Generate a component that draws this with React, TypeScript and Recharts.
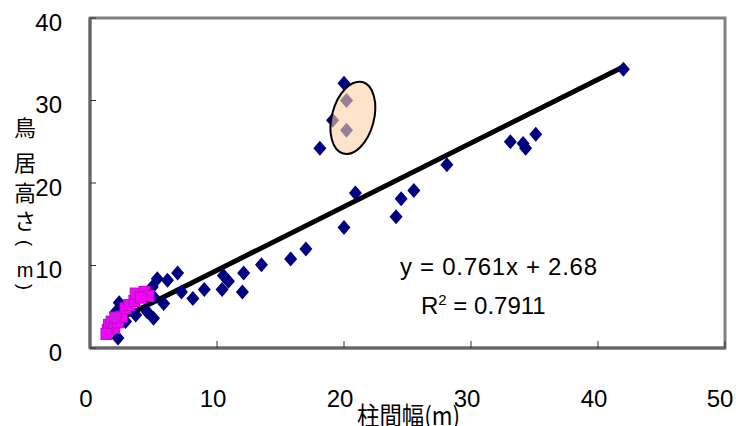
import {
  ScatterChart,
  Scatter,
  XAxis,
  YAxis,
  ReferenceLine,
  ReferenceDot,
  ReferenceArea,
} from 'recharts';

// tick values
const xTicks = [0, 10, 20, 30, 40, 50];
const yTicks = [0, 10, 20, 30, 40];

// 柱間幅 (m) / 鳥居高さ (m) — navy diamonds
const toriiX = [1.5, 2.2, 2.0, 2.3, 2.8, 3.6, 4.5, 5.0, 5.0, 4.9, 5.3, 5.8, 6.1, 6.9, 7.2, 8.1, 9.0, 10.4, 10.5, 10.9, 12.0, 12.1, 13.5, 15.8, 17.0, 18.1, 19.1, 20.0, 20.2, 20.2, 20.0, 20.9, 24.1, 24.5, 25.5, 28.1, 33.1, 34.1, 34.3, 35.1, 42.0];
const toriiY = [2.6, 1.2, 4.3, 5.5, 3.2, 4.0, 4.4, 3.6, 6.2, 7.4, 8.4, 5.4, 8.2, 9.1, 6.8, 6.0, 7.1, 7.1, 8.8, 8.1, 6.8, 9.1, 10.1, 10.8, 12.0, 24.2, 27.6, 32.1, 30.0, 26.4, 14.6, 18.8, 15.9, 18.1, 19.1, 22.2, 25.0, 24.8, 24.2, 25.9, 33.8];

// magenta squares
const smallX = [1.4, 1.5, 1.7, 1.9, 2.2, 2.5, 2.8, 3.1, 3.5, 3.6, 4.3, 4.6, 4.0, 2.0, 1.3];
const smallY = [2.2, 2.8, 3.2, 2.4, 3.1, 3.8, 4.8, 5.2, 5.7, 6.6, 6.8, 6.3, 6.1, 3.7, 1.7];

// trend line ends and its label
const trendX = [1.4, 42.0];
const trendY = [2.8, 34.1];
const equation = 'y = 0.761x + 2.68';
const rSquared = '0.7911';

// circled group centre
const circledX = 20.7;
const circledY = 27.9;

const yTitleKanji = ['鳥', '居', '高', 'さ'];
const xTitle = '柱間幅(m)';

const torii = toriiX.map((x, i) => ({ x, y: toriiY[i] }));
const small = smallX.map((x, i) => ({ x, y: smallY[i] }));

const numFont = "'Liberation Sans', Arial, sans-serif";
const jpFont = "'Noto Sans CJK JP', sans-serif";

const Diamond = (props: any) => {
  const { cx, cy } = props;
  return (
    <polygon
      points={`${cx},${cy - 7.5} ${cx + 6.5},${cy} ${cx},${cy + 7.5} ${cx - 6.5},${cy}`}
      fill="#000080"
    />
  );
};

const Square = (props: any) => {
  const { cx, cy } = props;
  const h = 5.5;
  return (
    <g>
      <rect x={cx - h} y={cy - h} width={h * 2} height={h * 2} fill="#ff00ff" stroke="#cc00cc" strokeWidth={1} />
      <path
        d={`M${cx - h},${cy - h}L${cx + h},${cy + h}M${cx + h},${cy - h}L${cx - h},${cy + h}`}
        stroke="#9a33cc"
        strokeWidth={1}
      />
    </g>
  );
};

const Ellipse = (props: any) => {
  const { cx, cy } = props;
  return (
    <ellipse
      cx={cx}
      cy={cy}
      rx={21}
      ry={37}
      transform={`rotate(15 ${cx} ${cy})`}
      fill="#ffd2a8"
      fillOpacity={0.6}
      stroke="#000"
      strokeWidth={2}
    />
  );
};

export default function App() {
  return (
    <div style={{ position: 'absolute', left: 0, top: 0, background: '#fff' }}>
      <ScatterChart width={736} height={426} margin={{ top: 18, right: 11, left: 0, bottom: 0 }}>
        <XAxis
          type="number"
          dataKey="x"
          domain={[0, 50]}
          ticks={xTicks}
          height={78}
          axisLine={{ stroke: '#666', strokeWidth: 3 }}
          tickLine={{ stroke: '#333' }}
          tickSize={-7}
          tickMargin={49}
          tick={{ fontSize: 24, fill: '#000', fontFamily: numFont, dx: -4 }}
        />
        <YAxis
          type="number"
          dataKey="y"
          domain={[0, 40]}
          ticks={yTicks}
          width={90}
          axisLine={{ stroke: '#666', strokeWidth: 3 }}
          tickLine={{ stroke: '#333' }}
          tickSize={-6}
          tickMargin={34}
          tick={{ fontSize: 24, fill: '#000', fontFamily: numFont, dy: 4 }}
        />
        <ReferenceArea x1={0} x2={50} y1={0} y2={40} fill="none" stroke="#808080" strokeWidth={3} />
        <Scatter data={torii} shape={<Diamond />} isAnimationActive={false} />
        <Scatter data={small} shape={<Square />} isAnimationActive={false} />
        <ReferenceLine
          segment={[
            { x: trendX[0], y: trendY[0] },
            { x: trendX[1], y: trendY[1] },
          ]}
          stroke="#000"
          strokeWidth={5}
        />
        <ReferenceDot x={circledX} y={circledY} shape={<Ellipse />} />
        <text x={400} y={275} fontSize={24} fontFamily={numFont} fill="#000" textLength={197} lengthAdjust="spacing">
          {equation}
        </text>
        <text x={421} y={314} fontSize={24} fontFamily={numFont} fill="#000">
          R<tspan fontSize={15} dy={-9}>2</tspan>
          <tspan dy={9}> = {rSquared}</tspan>
        </text>
        {yTitleKanji.map((c, i) => (
          <text
            key={c}
            x={25}
            y={[136, 171, 201, 229][i]}
            textAnchor="middle"
            fontSize={22}
            fontFamily={jpFont}
            fill="#000"
          >
            {c}
          </text>
        ))}
        <text
          x={25}
          y={243}
          textAnchor="middle"
          dominantBaseline="central"
          fontSize={18}
          fontFamily={numFont}
          fill="#000"
          transform="rotate(90 25 243)"
        >
          (
        </text>
        <text x={25} y={277} textAnchor="middle" fontSize={20} fontFamily={numFont} fill="#000">
          m
        </text>
        <text
          x={25}
          y={287}
          textAnchor="middle"
          dominantBaseline="central"
          fontSize={18}
          fontFamily={numFont}
          fill="#000"
          transform="rotate(90 25 287)"
        >
          )
        </text>
        <text x={357} y={425} fontSize={25} fontFamily={jpFont} fill="#000" textLength={103} lengthAdjust="spacingAndGlyphs">
          {xTitle}
        </text>
      </ScatterChart>
    </div>
  );
}
